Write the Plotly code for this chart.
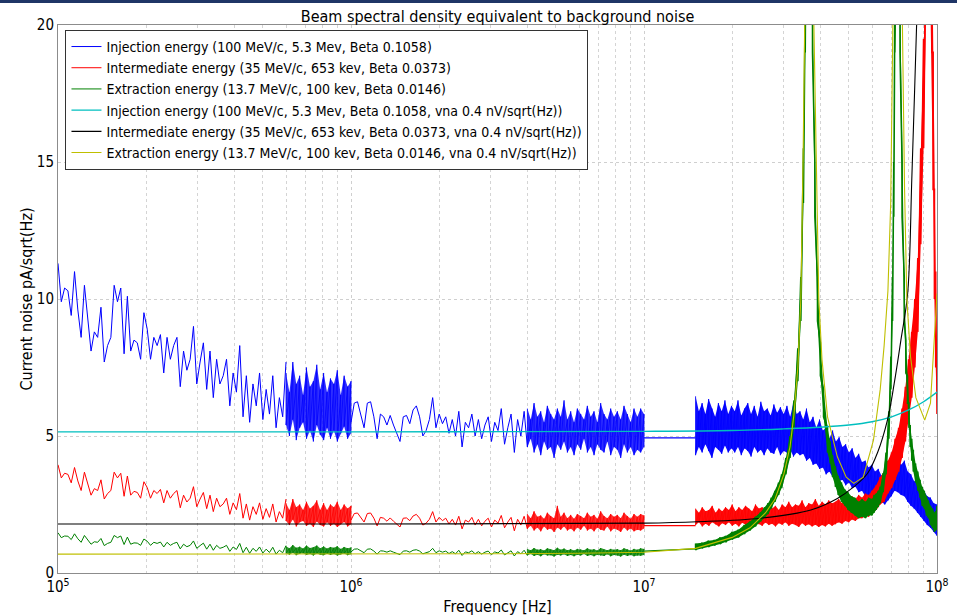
import numpy as np
import plotly.graph_objects as go

# ---------------- data ----------------
# measured noise, segment 1 (1e5 .. 6e5 Hz), sparse part
blue_s1 = [11.3, 9.9, 10.4, 10.3, 9.4, 11.0, 9.6, 8.6, 10.5, 9.2,
           8.1, 8.8, 8.6, 9.7, 7.7, 8.3, 8.6, 10.5, 9.9, 10.4,
           8.0, 10.1, 8.1, 8.5, 8.4, 7.8, 9.5, 8.9, 7.8, 8.6,
           8.3, 8.7, 7.3, 8.6, 7.8, 8.3, 8.6, 6.8, 8.1, 7.4,
           7.8, 9.0, 6.9, 7.7, 8.4, 6.7, 8.1, 6.4, 7.8, 6.9,
           7.2, 7.8, 6.1, 7.3, 6.6, 8.3, 5.7, 7.2, 5.5, 6.9,
           6.1, 7.3, 5.6, 6.7, 5.8, 7.2, 5.3, 6.4, 5.7, 7.7]
red_s1 = [3.95, 3.47, 3.64, 3.6, 3.29, 3.85, 3.36, 3.01, 3.68, 3.22,
          2.84, 3.08, 3.01, 3.4, 2.7, 2.9, 3.01, 3.68, 3.47, 3.64,
          2.8, 3.54, 2.84, 2.98, 2.94, 2.73, 3.33, 3.12, 2.73, 3.01,
          2.9, 3.05, 2.56, 3.01, 2.73, 2.9, 3.01, 2.38, 2.84, 2.59,
          2.73, 3.15, 2.42, 2.7, 2.94, 2.35, 2.84, 2.24, 2.73, 2.42,
          2.52, 2.73, 2.14, 2.56, 2.31, 2.9, 2.0, 2.52, 1.93, 2.42,
          2.14, 2.56, 1.96, 2.35, 2.03, 2.52, 1.86, 2.24, 2.0, 2.7]
green_s1 = [1.47, 1.29, 1.35, 1.34, 1.22, 1.43, 1.25, 1.12, 1.37, 1.2,
            1.05, 1.14, 1.12, 1.26, 1.0, 1.08, 1.12, 1.37, 1.29, 1.35,
            1.04, 1.31, 1.05, 1.1, 1.09, 1.01, 1.24, 1.16, 1.01, 1.12,
            1.08, 1.13, 0.95, 1.12, 1.01, 1.08, 1.12, 0.88, 1.05, 0.96,
            1.01, 1.17, 0.9, 1.0, 1.09, 0.87, 1.05, 0.83, 1.01, 0.9,
            0.94, 1.01, 0.79, 0.95, 0.86, 1.08, 0.74, 0.94, 0.72, 0.9,
            0.79, 0.95, 0.73, 0.87, 0.75, 0.94, 0.69, 0.83, 0.74, 1.0]

# segment 1 dense part (6e5 .. 1e6 Hz): upper / lower excursions
blue_b1_hi = [7.3, 6.6, 7.7, 6.9, 7.2, 6.5, 7.5, 6.8, 7.0, 7.6, 6.7, 7.3, 6.6, 7.1, 6.9, 7.4, 6.5, 7.2, 6.8, 7.0]
blue_b1_lo = [5.4, 5.0, 5.6, 4.85, 5.3, 5.5, 4.9, 5.2, 4.8, 5.4, 5.05, 4.85, 5.3, 4.9, 5.2, 4.8, 5.1, 5.35, 4.9, 5.1]
red_b1_hi = [2.55, 2.3, 2.7, 2.4, 2.5, 2.3, 2.6, 2.35, 2.45, 2.65, 2.3, 2.55, 2.3, 2.5, 2.4, 2.6, 2.3, 2.5, 2.35, 2.45]
red_b1_lo = [1.9, 1.75, 1.95, 1.7, 1.85, 1.9, 1.72, 1.8, 1.68, 1.88, 1.75, 1.7, 1.85, 1.72, 1.8, 1.68, 1.78, 1.86, 1.7, 1.78]
green_b1_hi = [0.98, 0.9, 1.02, 0.92, 0.96, 0.89, 1.0, 0.91, 0.94, 1.0, 0.9, 0.97, 0.89, 0.95, 0.92, 0.98, 0.88, 0.95, 0.9, 0.93]
green_b1_lo = [0.72, 0.67, 0.74, 0.65, 0.7, 0.72, 0.66, 0.69, 0.64, 0.71, 0.67, 0.65, 0.7, 0.66, 0.69, 0.64, 0.68, 0.71, 0.65, 0.68]

# segment 2 (1e6 .. 4e6 Hz), sparse part
blue_s2 = [5.5, 6.2, 6.25, 5.8, 5.3, 6.2, 6.25, 5.7, 4.9, 5.8,
           5.7, 5.4, 5.75, 5.4, 5.1, 4.8, 5.7, 5.75, 5.45, 5.95,
           6.1, 5.7, 5.0, 5.2, 5.6, 6.4, 5.3, 5.8, 5.45, 5.7,
           5.1, 5.6, 5.0, 5.9, 4.6, 5.5, 5.3, 5.8, 5.0, 5.6,
           4.9, 5.4, 5.7, 4.8, 5.5, 5.2, 6.0, 4.7, 5.3, 5.8,
           4.4, 5.6, 5.0, 5.9, 4.6]
red_s2 = [1.93, 2.17, 2.19, 2.03, 1.86, 2.17, 2.19, 2.0, 1.72, 2.03,
          2.0, 1.89, 2.01, 1.89, 1.79, 1.68, 2.0, 2.01, 1.91, 2.08,
          2.14, 2.0, 1.75, 1.82, 1.96, 2.24, 1.86, 2.03, 1.91, 2.0,
          1.79, 1.96, 1.75, 2.07, 1.61, 1.93, 1.86, 2.03, 1.75, 1.96,
          1.72, 1.89, 2.0, 1.68, 1.93, 1.82, 2.1, 1.65, 1.86, 2.03,
          1.54, 1.96, 1.75, 2.07, 1.61]
green_s2 = [0.77, 0.87, 0.88, 0.81, 0.74, 0.87, 0.88, 0.8, 0.69, 0.81,
            0.8, 0.76, 0.81, 0.76, 0.71, 0.67, 0.8, 0.81, 0.76, 0.83,
            0.85, 0.8, 0.7, 0.73, 0.78, 0.9, 0.74, 0.81, 0.76, 0.8,
            0.71, 0.78, 0.7, 0.83, 0.64, 0.77, 0.74, 0.81, 0.7, 0.78,
            0.69, 0.76, 0.8, 0.67, 0.77, 0.73, 0.84, 0.66, 0.74, 0.81,
            0.62, 0.78, 0.7, 0.83, 0.64]

# segment 2 dense part (4e6 .. 1e7 Hz)
blue_b2_hi = [6.0, 5.6, 6.2, 5.7, 5.9, 5.5, 6.1, 5.8, 5.6, 6.0, 5.7, 6.3, 5.6, 5.9, 5.5, 6.0, 5.8, 5.6,
              6.1, 5.7, 5.9, 5.5, 6.2, 5.8, 5.6, 6.0, 5.7, 5.9, 5.6, 6.1, 5.8, 5.5, 6.0, 5.7, 6.0, 5.8]
blue_b2_lo = [4.6, 4.9, 4.4, 4.7, 4.3, 4.8, 4.5, 4.6, 4.2, 4.7, 4.5, 4.8, 4.4, 4.6, 4.3, 4.7, 4.5, 4.9,
              4.4, 4.6, 4.3, 4.7, 4.5, 4.4, 4.8, 4.3, 4.6, 4.5, 4.2, 4.7, 4.4, 4.6, 4.3, 4.5, 4.4, 4.6]
red_b2_hi = [2.15, 2.0, 2.25, 2.05, 2.1, 1.98, 2.2, 2.08, 2.0, 2.45, 2.05, 2.2, 2.0, 2.12, 1.98, 2.15, 2.08, 2.0,
             2.2, 2.05, 2.12, 1.98, 2.25, 2.08, 2.0, 2.15, 2.05, 2.12, 2.0, 2.2, 2.08, 1.98, 2.15, 2.05, 2.15, 2.1]
red_b2_lo = [1.62, 1.72, 1.55, 1.66, 1.52, 1.7, 1.58, 1.62, 1.5, 1.66, 1.58, 1.7, 1.55, 1.62, 1.52, 1.66, 1.58, 1.72,
             1.55, 1.62, 1.52, 1.66, 1.58, 1.55, 1.7, 1.52, 1.62, 1.58, 1.5, 1.66, 1.55, 1.62, 1.52, 1.58, 1.55, 1.62]
green_b2_hi = [0.88, 0.83, 0.91, 0.85, 0.87, 0.82, 0.9, 0.86, 0.83, 0.92, 0.85, 0.89, 0.83, 0.87, 0.82, 0.88, 0.86, 0.83,
               0.9, 0.85, 0.87, 0.82, 0.91, 0.86, 0.83, 0.88, 0.85, 0.87, 0.83, 0.9, 0.86, 0.82, 0.88, 0.85, 0.9, 0.88]
green_b2_lo = [0.65, 0.69, 0.62, 0.67, 0.61, 0.68, 0.64, 0.65, 0.6, 0.67, 0.64, 0.68, 0.62, 0.66, 0.61, 0.67, 0.64, 0.69,
               0.62, 0.66, 0.61, 0.67, 0.64, 0.62, 0.68, 0.61, 0.66, 0.64, 0.6, 0.67, 0.62, 0.66, 0.61, 0.64, 0.63, 0.66]

# straight connection across the missing band 1e7 .. 1.5e7 Hz
f_gap = [1.0e7, 1.5e7]
blue_gap = [4.93, 4.93]
red_gap = [1.73, 1.73]
green_gap = [0.8, 0.88]

# segment 3 (1.5e7 .. 1e8 Hz) blue
blue_b3_hi = [6.45, 5.9, 6.2, 5.8, 6.35, 6.0, 5.7, 6.2, 5.9, 6.3, 5.8, 6.1,
              5.9, 6.3, 5.75, 6.0, 6.2, 5.8, 6.1, 5.7, 6.25, 5.9, 6.0, 5.75, 6.15, 5.85, 6.05, 5.8,
              6.1, 5.7, 6.2, 5.8, 5.9, 5.6, 6.0, 5.5, 5.7,
              5.3, 5.6, 5.2, 5.3, 4.9, 5.2, 4.8, 4.95, 4.6,
              4.7, 4.4, 4.55, 4.2, 4.35, 4.05, 4.1, 3.85, 3.95, 3.7, 3.8,
              3.55, 3.65, 3.5, 3.8, 4.0, 4.2, 3.95, 4.1,
              3.7, 3.6, 3.35, 3.3, 3.05, 3.0, 2.8, 2.75, 2.55, 2.5]
blue_b3_lo = [4.3, 4.6, 4.4, 4.7, 4.45, 4.2, 4.6, 4.5, 4.35, 4.65, 4.4, 4.55,
              4.4, 4.6, 4.3, 4.55, 4.45, 4.25, 4.6, 4.4, 4.5, 4.3, 4.55, 4.4, 4.35, 4.6, 4.3, 4.45,
              4.4, 4.5, 4.25, 4.4, 4.3, 4.35, 4.1, 4.2, 3.95,
              4.0, 3.8, 3.85, 3.6, 3.7, 3.5, 3.55, 3.35, 3.4,
              3.2, 3.3, 3.1, 3.15, 2.95, 3.0, 2.8, 2.85, 2.65, 2.7, 2.55,
              2.6, 2.5, 2.65, 2.8, 3.0, 2.95, 2.85, 2.8,
              2.6, 2.45, 2.35, 2.2, 2.05, 1.9, 1.75, 1.65, 1.5, 1.35]

# segment 3 red: flat part 1.5e7 .. 6e7 Hz
red_b3_hi = [2.35, 2.2, 2.4, 2.25, 2.3, 2.45, 2.2, 2.35, 2.25, 2.4, 2.3, 2.5, 2.25, 2.4, 2.3, 2.45, 2.35, 2.25,
             2.5, 2.35, 2.4, 2.3, 2.55, 2.35, 2.45, 2.3, 2.5, 2.4, 2.6, 2.4, 2.5, 2.45, 2.65, 2.4, 2.55, 2.5,
             2.7, 2.45, 2.6, 2.5, 2.65, 2.55, 2.6, 2.7, 2.55, 2.75, 2.6, 2.8, 2.7, 2.85, 2.75, 2.9, 2.85, 3.0]
red_b3_lo = [1.75, 1.85, 1.7, 1.8, 1.72, 1.85, 1.78, 1.7, 1.82, 1.75, 1.85, 1.72, 1.8, 1.7, 1.83, 1.76, 1.8, 1.7,
             1.85, 1.78, 1.72, 1.84, 1.75, 1.8, 1.7, 1.82, 1.76, 1.85, 1.72, 1.8, 1.75, 1.68, 1.82, 1.72, 1.78, 1.7,
             1.76, 1.68, 1.75, 1.7, 1.8, 1.72, 1.78, 1.85, 1.8, 1.9, 1.85, 1.95, 1.9, 2.0, 2.0, 2.1, 2.05, 2.2]
# segment 3 red: resonance part (freq in units of 1e7 Hz)
f3_red_res = [6.0, 6.2, 6.4, 6.6, 6.8, 7.0, 7.2, 7.4, 7.6, 7.8, 8.0, 8.2, 8.4, 8.6, 8.8, 9.0, 9.2, 9.4,
              9.6, 9.7, 9.8, 9.9, 10.0]
red_res_hi = [3.0, 3.2, 3.5, 3.7, 4.1, 4.4, 4.9, 5.3, 6.0, 6.8, 7.8, 8.8, 10.0, 11.5, 15.5, 19.5, 25, 26,
              24, 19, 14, 11, 8.5]
red_res_lo = [2.2, 2.3, 2.5, 2.6, 2.9, 3.1, 3.4, 3.7, 4.2, 4.8, 5.6, 6.4, 7.5, 8.8, 12, 15.5, 21, 24,
              19, 14, 10, 7.5, 5.8]

# segment 3 green (freq in units of 1e7 Hz)
f3_green = [1.5, 1.58, 1.66, 1.74, 1.82, 1.9, 2.0, 2.1, 2.2, 2.3,
            2.4, 2.5, 2.58, 2.65, 2.72, 2.8, 2.88, 2.95, 3.05, 3.15,
            3.25, 3.35, 3.43, 3.5, 3.55, 3.6, 3.7, 3.76, 3.83, 3.91,
            4.0, 4.1, 4.23, 4.32, 4.4, 4.5, 4.6, 4.72, 4.85, 4.97,
            5.1, 5.25, 5.4, 5.55, 5.7, 5.85, 6.0, 6.1, 6.2, 6.3,
            6.4, 6.55, 6.7, 6.85, 6.96, 7.05, 7.12, 7.18, 7.3, 7.4,
            7.48, 7.6, 7.73, 7.83, 7.93, 8.02, 8.1, 8.2, 8.3, 8.45,
            8.6, 8.75, 8.9, 9.05, 9.2, 9.35, 9.5, 9.65, 9.8, 9.9,
            10.0]
green_b3_hi = [1.08, 1.1, 1.18, 1.2, 1.3, 1.35, 1.5, 1.58, 1.75, 1.88,
               2.05, 2.22, 2.4, 2.55, 2.75, 3.0, 3.3, 3.6, 4.2, 5.0,
               6.3, 8.2, 10.8, 15.5, 21, 31, 31, 21, 15, 10.8,
               8.4, 6.7, 5.3, 4.8, 4.3, 3.9, 3.55, 3.3, 3.05, 2.95,
               2.8, 2.75, 2.6, 2.7, 2.6, 2.75, 2.7, 2.85, 2.9, 3.0,
               3.15, 3.65, 4.4, 5.9, 7.9, 10.8, 15, 21, 31, 31,
               21, 15, 10.8, 8.5, 7.2, 6.2, 5.4, 4.9, 4.5, 4.0,
               3.7, 3.4, 3.15, 3.0, 2.8, 2.65, 2.45, 2.35, 2.2, 2.25,
               2.45]
green_b3_lo = [0.84, 0.9, 0.95, 1.0, 1.06, 1.12, 1.22, 1.3, 1.42, 1.55,
               1.7, 1.88, 2.02, 2.15, 2.35, 2.6, 2.85, 3.1, 3.6, 4.2,
               5.3, 7.0, 9.2, 13.5, 19, 29, 29, 19, 13, 9.2,
               7.2, 5.7, 4.4, 4.0, 3.5, 3.15, 2.85, 2.6, 2.45, 2.3,
               2.2, 2.1, 2.0, 2.05, 2.0, 2.1, 2.1, 2.2, 2.3, 2.4,
               2.55, 2.95, 3.6, 4.9, 6.7, 9.2, 13, 19, 29, 29,
               19, 13, 9.2, 7.3, 6.2, 5.3, 4.6, 4.1, 3.7, 3.3,
               3.0, 2.75, 2.45, 2.35, 2.1, 2.0, 1.75, 1.65, 1.5, 1.55,
               1.6]

# model curves (vna 0.4 nV/sqrt(Hz))
f_cyan = [1e5, 1e6, 1e7, 2e7, 3e7, 4e7, 5e7, 6e7, 7e7, 8e7, 9e7, 1e8]
cyan_v = [5.15, 5.15, 5.17, 5.2, 5.26, 5.32, 5.4, 5.52, 5.7, 5.95, 6.25, 6.6]

f_black = [1e5, 1e6, 1e7, 1.52e7, 2.5e7, 3.71e7, 4.57e7, 5.21e7, 5.79e7, 6.27e7, 6.78e7,
           7.14e7, 7.53e7, 7.94e7, 8.21e7, 8.53e7, 8.8e7]
black_v = [1.79, 1.79, 1.82, 1.87, 2.0, 2.3, 2.72, 3.15, 3.63, 4.4, 5.6,
           6.9, 8.5, 10.2, 14.5, 20.2, 25]

f_yellow = [1e5, 1e6, 3e6, 6e6, 1e7, 1.5e7, 2.0e7, 2.3e7, 2.6e7, 2.8e7, 3.0e7, 3.15e7, 3.25e7,
            3.35e7, 3.43e7, 3.49e7, 3.53e7, 3.62e7, 3.72e7, 3.8e7, 3.88e7, 3.95e7, 4.05e7,
            4.23e7, 4.57e7, 4.9e7, 5.2e7, 5.6e7, 6.07e7, 6.4e7, 6.6e7, 6.8e7, 6.95e7, 7.08e7,
            7.3e7, 7.45e7, 7.62e7, 7.75e7, 7.89e7, 8.12e7, 8.47e7, 9.08e7, 9.5e7, 9.7e7,
            9.95e7, 1e8]
yellow_v = [0.69, 0.69, 0.7, 0.72, 0.76, 0.9, 1.3, 1.65, 2.2, 2.7, 3.6, 4.6, 5.8,
            7.5, 10, 15, 20, 40, 40, 20, 14, 10, 7.8,
            5.7, 4.24, 3.5, 3.27, 3.5, 4.85, 6.7, 8.3, 10.3, 13.5, 20,
            40, 40, 20, 14, 10, 7.9, 6.4, 5.58, 6.2, 7.9,
            9.7, 10.2]

legend_names = [
    "Injection energy (100 MeV/c, 5.3 Mev, Beta 0.1058)",
    "Intermediate energy (35 MeV/c, 653 kev, Beta 0.0373)",
    "Extraction energy (13.7 MeV/c, 100 kev, Beta 0.0146)",
    "Injection energy (100 MeV/c, 5.3 Mev, Beta 0.1058, vna 0.4 nV/sqrt(Hz))",
    "Intermediate energy (35 MeV/c, 653 kev, Beta 0.0373, vna 0.4 nV/sqrt(Hz))",
    "Extraction energy (13.7 MeV/c, 100 kev, Beta 0.0146, vna 0.4 nV/sqrt(Hz))",
]
x_tick_vals = [1e5, 1e6, 1e7, 1e8]
x_tick_text = ["10<sup>5</sup>", "10<sup>6</sup>", "10<sup>7</sup>", "10<sup>8</sup>"]

# ---------------- figure ----------------
BLUE, RED, GREEN = "#0000ff", "#ff0000", "#008000"
CYAN, BLACK, YELLOW = "#00bfbf", "#000000", "#bfbf00"
FONT = "DejaVu Sans Condensed, Liberation Sans Narrow, DejaVu Sans"

fig = go.Figure()


def add_line(x, y, color, width=1.0, name=None, show=False, shape="linear"):
    fig.add_trace(go.Scatter(x=x, y=y, mode="lines", name=name, showlegend=show,
                             line=dict(color=color, width=width, shape=shape),
                             hoverinfo="skip"))


def add_noise(f, hi, lo, color, fill, width=0.8):
    """dense measured band: envelope fill + up/down strokes at every sample"""
    f = list(f)
    fig.add_trace(go.Scatter(x=f + f[::-1], y=list(hi) + list(lo)[::-1], mode="lines",
                             fill="toself", fillcolor=fill, line=dict(width=0),
                             showlegend=False, hoverinfo="skip"))
    zx, zy = [], []
    for fk, h, l in zip(f, hi, lo):
        zx += [fk, fk]
        zy += [h, l]
    add_line(zx, zy, color, width)


def measured(color, fill, name, s1, b1h, b1l, s2, b2h, b2l, gap):
    add_line(np.geomspace(1e5, 6e5, len(s1)), s1, color, 1.0, name, True)
    add_noise(np.geomspace(6e5, 1e6, len(b1h)), b1h, b1l, color, fill)
    add_line(np.geomspace(1e6, 4e6, len(s2)), s2, color, 1.0)
    add_noise(np.geomspace(4e6, 1e7, len(b2h)), b2h, b2l, color, fill)
    add_line(f_gap, gap, color, 1.2)


measured(BLUE, "rgba(0,0,255,0.82)", legend_names[0], blue_s1, blue_b1_hi, blue_b1_lo,
         blue_s2, blue_b2_hi, blue_b2_lo, blue_gap)
add_noise(np.geomspace(1.5e7, 1e8, len(blue_b3_hi)), blue_b3_hi, blue_b3_lo, BLUE, "rgba(0,0,255,0.95)")

measured(RED, "rgba(255,0,0,0.82)", legend_names[1], red_s1, red_b1_hi, red_b1_lo,
         red_s2, red_b2_hi, red_b2_lo, red_gap)
add_noise(np.geomspace(1.5e7, 6e7, len(red_b3_hi)), red_b3_hi, red_b3_lo, RED, "rgba(255,0,0,0.95)")
add_noise(np.array(f3_red_res) * 1e7, red_res_hi, red_res_lo, RED, "rgba(255,0,0,1)", 1.6)

measured(GREEN, "rgba(0,128,0,0.82)", legend_names[2], green_s1, green_b1_hi, green_b1_lo,
         green_s2, green_b2_hi, green_b2_lo, green_gap)
add_noise(np.array(f3_green) * 1e7, green_b3_hi, green_b3_lo, GREEN, "rgba(0,128,0,1)", 1.6)

add_line(f_cyan, cyan_v, CYAN, 1.4, legend_names[3], True, "spline")
add_line(f_black, black_v, BLACK, 1.1, legend_names[4], True, "spline")
add_line(f_yellow, yellow_v, YELLOW, 1.1, legend_names[5], True)

grid = dict(showgrid=True, gridcolor="#cfcfcf", griddash="dot", gridwidth=1)

fig.update_layout(
    width=957, height=616,
    margin=dict(l=58, r=20, t=25, b=43),
    paper_bgcolor="white", plot_bgcolor="white",
    font=dict(family=FONT, size=15, color="black"),
    title=dict(text="Beam spectral density equivalent to background noise",
               x=0.5, xref="paper", xanchor="center",
               y=1 - 16 / 616, yref="container", yanchor="middle",
               font=dict(size=16)),
    legend=dict(x=0.0085, y=0.991, xanchor="left", yanchor="top",
                bgcolor="white", bordercolor="#333333", borderwidth=1,
                font=dict(size=14), itemwidth=30, tracegroupgap=0),
    xaxis=dict(type="log", range=[5, 8], tickmode="array", automargin=False,
               tickvals=x_tick_vals, ticktext=x_tick_text,
               showline=True, linecolor="#8c8c8c", linewidth=1, mirror=True,
               ticks="", zeroline=False, tickfont=dict(size=15),
               minor=dict(dtick="D1", ticks="", showgrid=True, gridcolor="#d4d4d4",
                          griddash="dot", gridwidth=1),
               title=dict(text="Frequency [Hz]", font=dict(size=16), standoff=10),
               **grid),
    yaxis=dict(range=[0, 20], tick0=0, dtick=5, showline=True, linecolor="#8c8c8c",
               linewidth=1, mirror=True, ticks="", zeroline=False, tickfont=dict(size=15),
               automargin=False,
               title=dict(text="Current noise pA/sqrt(Hz)", font=dict(size=16), standoff=0),
               **grid),
    shapes=[dict(type="rect", xref="paper", yref="paper",
                 x0=-58 / 879, x1=899 / 879, y0=(573 - 3) / 548, y1=(573 + 2) / 548,
                 fillcolor="#1f3566", line=dict(width=0), layer="above")],
)

fig.write_html("out.html", config={"displayModeBar": False},
               post_script="document.body.style.margin='0';document.body.style.overflow='hidden';")
